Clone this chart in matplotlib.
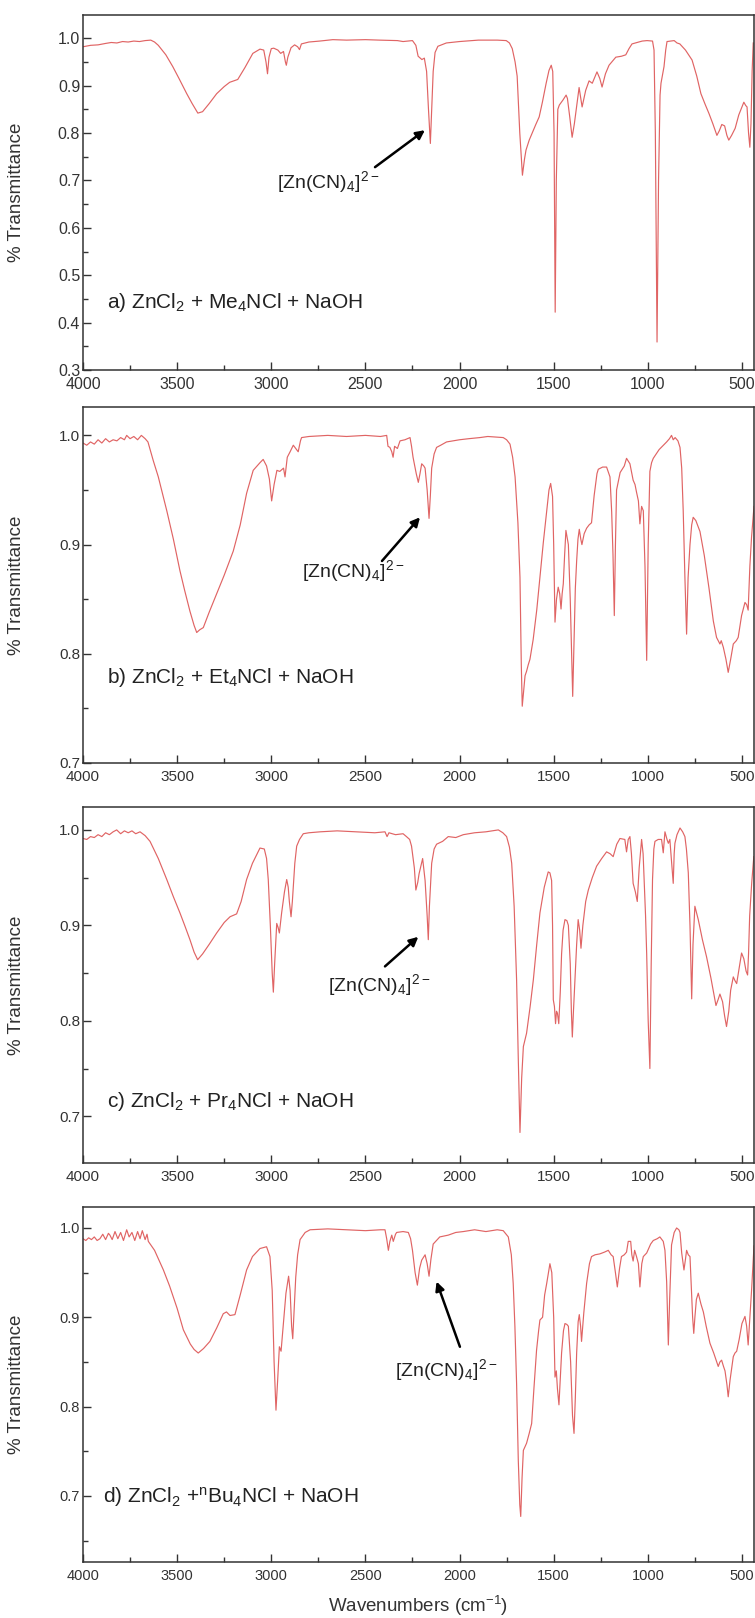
import numpy as np
import matplotlib
matplotlib.use('Agg')
import matplotlib.pyplot as plt
from matplotlib.ticker import MultipleLocator, FormatStrFormatter

plt.rcParams['font.family'] = ['Liberation Sans', 'DejaVu Sans']
plt.rcParams['mathtext.fontset'] = 'custom'
plt.rcParams['mathtext.rm'] = 'Liberation Sans'

# ---- spectra: (wavenumber cm-1, transmittance) ----
spec_a = [
    (4000, 0.982), (3960, 0.985), (3920, 0.986), (3880, 0.989), (3850, 0.991), (3820, 0.990),
    (3790, 0.993), (3760, 0.992), (3730, 0.994), (3700, 0.993), (3670, 0.995), (3640, 0.996),
    (3620, 0.992), (3600, 0.985), (3560, 0.965), (3523, 0.940), (3490, 0.915), (3449, 0.883),
    (3420, 0.862), (3390, 0.842), (3365, 0.845), (3330, 0.862), (3290, 0.883), (3250, 0.898),
    (3221, 0.907), (3178, 0.913), (3140, 0.938), (3098, 0.968), (3060, 0.977), (3040, 0.975),
    (3028, 0.950), (3020, 0.925), (3012, 0.960), (3000, 0.978), (2987, 0.979), (2965, 0.975),
    (2950, 0.968), (2935, 0.972), (2925, 0.950), (2920, 0.943), (2912, 0.960), (2895, 0.980),
    (2876, 0.986), (2860, 0.982), (2850, 0.976), (2840, 0.988), (2800, 0.992), (2743, 0.994),
    (2673, 0.997), (2600, 0.996), (2500, 0.997), (2425, 0.996), (2330, 0.995), (2300, 0.993),
    (2250, 0.995), (2232, 0.985), (2220, 0.962), (2200, 0.955), (2187, 0.958), (2175, 0.930),
    (2165, 0.850), (2155, 0.778), (2148, 0.850), (2140, 0.930), (2130, 0.970), (2115, 0.983),
    (2070, 0.990), (2000, 0.993), (1900, 0.996), (1800, 0.996), (1752, 0.995), (1735, 0.990),
    (1720, 0.978), (1705, 0.950), (1694, 0.920), (1680, 0.800), (1666, 0.711), (1655, 0.745),
    (1647, 0.764), (1630, 0.785), (1614, 0.800), (1595, 0.818), (1577, 0.834), (1560, 0.865),
    (1540, 0.905), (1525, 0.932), (1513, 0.943), (1505, 0.930), (1498, 0.800), (1492, 0.422),
    (1486, 0.700), (1478, 0.850), (1470, 0.859), (1450, 0.870), (1434, 0.880), (1427, 0.873),
    (1415, 0.835), (1402, 0.791), (1390, 0.820), (1380, 0.850), (1365, 0.896), (1349, 0.855),
    (1330, 0.890), (1312, 0.910), (1295, 0.905), (1270, 0.929), (1255, 0.915), (1243, 0.897),
    (1225, 0.925), (1206, 0.943), (1170, 0.960), (1140, 0.962), (1117, 0.965), (1100, 0.978),
    (1084, 0.988), (1030, 0.994), (1004, 0.995), (975, 0.994), (967, 0.975), (960, 0.800),
    (951, 0.359), (943, 0.700), (935, 0.880), (930, 0.905), (914, 0.940), (905, 0.975),
    (898, 0.993), (860, 0.995), (845, 0.990), (830, 0.988), (800, 0.975), (765, 0.954),
    (740, 0.920), (718, 0.883), (695, 0.860), (675, 0.841), (655, 0.820), (633, 0.795),
    (620, 0.805), (607, 0.818), (592, 0.815), (580, 0.795), (570, 0.785), (555, 0.795),
    (536, 0.810), (517, 0.838), (505, 0.850), (490, 0.865), (480, 0.858), (473, 0.855),
    (465, 0.800), (458, 0.770), (452, 0.820), (446, 0.930), (440, 0.990),
]

spec_b = [
    (4000, 0.993), (3980, 0.991), (3960, 0.994), (3940, 0.992), (3920, 0.996), (3900, 0.993),
    (3880, 0.997), (3860, 0.994), (3840, 0.996), (3820, 0.995), (3800, 0.998), (3780, 0.996),
    (3768, 1.000), (3750, 0.997), (3730, 0.999), (3710, 0.996), (3690, 1.000), (3670, 0.997),
    (3655, 0.994), (3640, 0.985), (3627, 0.977), (3600, 0.962), (3555, 0.931), (3520, 0.905),
    (3485, 0.876), (3460, 0.858), (3432, 0.839), (3410, 0.826), (3396, 0.8195), (3380, 0.822),
    (3361, 0.824), (3330, 0.838), (3290, 0.855), (3250, 0.872), (3202, 0.894), (3165, 0.918),
    (3131, 0.947), (3096, 0.968), (3060, 0.975), (3043, 0.978), (3025, 0.972), (3010, 0.960),
    (2998, 0.940), (2985, 0.955), (2970, 0.968), (2955, 0.967), (2935, 0.970), (2927, 0.962),
    (2915, 0.980), (2900, 0.985), (2883, 0.991), (2870, 0.988), (2857, 0.985), (2845, 0.995),
    (2839, 0.998), (2800, 0.999), (2700, 1.000), (2600, 0.999), (2500, 1.000), (2420, 0.999),
    (2387, 1.000), (2380, 0.990), (2370, 0.989), (2360, 0.985), (2353, 0.980), (2345, 0.990),
    (2330, 0.988), (2316, 0.995), (2290, 0.996), (2263, 0.998), (2255, 0.990), (2247, 0.980),
    (2230, 0.965), (2219, 0.957), (2210, 0.965), (2201, 0.974), (2190, 0.972), (2183, 0.970),
    (2172, 0.950), (2162, 0.924), (2155, 0.945), (2148, 0.970), (2135, 0.983), (2122, 0.989),
    (2100, 0.991), (2069, 0.994), (2000, 0.996), (1950, 0.997), (1892, 0.998), (1850, 0.999),
    (1768, 0.998), (1750, 0.996), (1732, 0.992), (1718, 0.980), (1705, 0.962), (1690, 0.920),
    (1679, 0.870), (1672, 0.790), (1667, 0.752), (1660, 0.765), (1652, 0.780), (1644, 0.784),
    (1635, 0.790), (1626, 0.795), (1609, 0.813), (1590, 0.840), (1573, 0.870), (1555, 0.902),
    (1537, 0.931), (1525, 0.950), (1516, 0.956), (1506, 0.944), (1500, 0.900), (1493, 0.829),
    (1485, 0.850), (1476, 0.861), (1468, 0.855), (1461, 0.841), (1455, 0.855), (1449, 0.864),
    (1442, 0.890), (1435, 0.913), (1422, 0.900), (1412, 0.850), (1405, 0.800), (1399, 0.761),
    (1392, 0.810), (1385, 0.860), (1378, 0.885), (1371, 0.905), (1364, 0.914), (1356, 0.905),
    (1350, 0.900), (1338, 0.910), (1325, 0.915), (1312, 0.918), (1299, 0.920), (1285, 0.945),
    (1270, 0.965), (1263, 0.969), (1240, 0.971), (1219, 0.971), (1201, 0.962), (1192, 0.930),
    (1185, 0.891), (1178, 0.835), (1172, 0.900), (1166, 0.950), (1147, 0.966), (1125, 0.972),
    (1113, 0.979), (1095, 0.974), (1085, 0.965), (1078, 0.959), (1068, 0.955), (1060, 0.948),
    (1050, 0.940), (1042, 0.919), (1033, 0.935), (1024, 0.931), (1015, 0.880), (1006, 0.794),
    (998, 0.900), (989, 0.967), (980, 0.975), (971, 0.979), (940, 0.987), (900, 0.994),
    (885, 0.997), (874, 1.000), (865, 0.996), (855, 0.998), (840, 0.995), (829, 0.989),
    (820, 0.970), (812, 0.931), (803, 0.870), (794, 0.818), (786, 0.870), (776, 0.900),
    (767, 0.918), (759, 0.925), (745, 0.922), (723, 0.912), (700, 0.890), (675, 0.860),
    (652, 0.830), (635, 0.815), (617, 0.809), (610, 0.812), (599, 0.806), (585, 0.795),
    (573, 0.783), (560, 0.795), (546, 0.809), (530, 0.812), (520, 0.815), (502, 0.835),
    (484, 0.847), (475, 0.845), (467, 0.840), (458, 0.880), (449, 0.907), (436, 0.935),
]

spec_c = [
    (4000, 0.991), (3980, 0.990), (3960, 0.993), (3940, 0.992), (3920, 0.995), (3900, 0.993),
    (3880, 0.997), (3860, 0.995), (3840, 0.998), (3821, 1.000), (3800, 0.996), (3780, 0.999),
    (3760, 0.997), (3740, 0.999), (3720, 0.996), (3697, 0.998), (3670, 0.994), (3644, 0.988),
    (3600, 0.970), (3555, 0.948), (3520, 0.930), (3485, 0.913), (3460, 0.900), (3432, 0.885),
    (3410, 0.872), (3391, 0.864), (3365, 0.870), (3330, 0.880), (3290, 0.892), (3250, 0.903),
    (3219, 0.909), (3184, 0.912), (3160, 0.925), (3131, 0.948), (3100, 0.965), (3060, 0.981),
    (3037, 0.980), (3025, 0.970), (3016, 0.948), (3005, 0.900), (2995, 0.850), (2989, 0.830),
    (2982, 0.860), (2971, 0.902), (2964, 0.898), (2957, 0.892), (2945, 0.913), (2930, 0.935),
    (2918, 0.948), (2910, 0.940), (2904, 0.925), (2895, 0.909), (2888, 0.925), (2883, 0.940),
    (2875, 0.965), (2865, 0.983), (2850, 0.990), (2830, 0.996), (2800, 0.997), (2740, 0.998),
    (2650, 0.999), (2550, 0.998), (2450, 0.997), (2396, 0.998), (2385, 0.993), (2375, 0.997),
    (2340, 0.995), (2300, 0.996), (2282, 0.993), (2265, 0.990), (2255, 0.983), (2240, 0.960),
    (2232, 0.937), (2222, 0.945), (2215, 0.954), (2196, 0.970), (2183, 0.947), (2172, 0.910),
    (2166, 0.885), (2160, 0.920), (2148, 0.965), (2135, 0.980), (2122, 0.985), (2090, 0.988),
    (2060, 0.993), (2020, 0.992), (1980, 0.995), (1920, 0.997), (1860, 0.998), (1794, 1.000),
    (1770, 0.997), (1750, 0.993), (1735, 0.982), (1723, 0.965), (1710, 0.920), (1697, 0.843),
    (1688, 0.760), (1679, 0.683), (1670, 0.740), (1661, 0.773), (1644, 0.787), (1625, 0.815),
    (1608, 0.843), (1590, 0.880), (1573, 0.913), (1550, 0.940), (1529, 0.956), (1520, 0.955),
    (1511, 0.947), (1506, 0.900), (1502, 0.822), (1496, 0.815), (1490, 0.797), (1485, 0.810),
    (1480, 0.808), (1473, 0.797), (1465, 0.830), (1458, 0.870), (1450, 0.895), (1440, 0.906),
    (1430, 0.905), (1422, 0.900), (1412, 0.860), (1406, 0.810), (1401, 0.783), (1395, 0.810),
    (1387, 0.843), (1378, 0.880), (1370, 0.906), (1362, 0.895), (1355, 0.876), (1345, 0.900),
    (1330, 0.925), (1316, 0.937), (1295, 0.950), (1272, 0.962), (1245, 0.970), (1219, 0.977),
    (1200, 0.975), (1184, 0.972), (1165, 0.985), (1148, 0.991), (1122, 0.990), (1113, 0.977),
    (1104, 0.990), (1095, 0.993), (1087, 0.975), (1078, 0.944), (1066, 0.935), (1056, 0.925),
    (1046, 0.960), (1033, 0.990), (1025, 0.975), (1021, 0.955), (1012, 0.910), (1006, 0.870),
    (998, 0.800), (989, 0.750), (982, 0.860), (975, 0.948), (968, 0.980), (962, 0.988),
    (945, 0.990), (927, 0.990), (918, 0.976), (909, 0.998), (898, 0.990), (891, 0.986),
    (883, 0.990), (875, 0.970), (865, 0.944), (860, 0.975), (856, 0.986), (845, 0.995),
    (829, 1.002), (815, 0.998), (803, 0.993), (795, 0.980), (785, 0.955), (776, 0.900),
    (767, 0.823), (760, 0.880), (750, 0.920), (740, 0.912), (732, 0.906), (710, 0.885),
    (688, 0.867), (665, 0.845), (638, 0.816), (627, 0.822), (617, 0.828), (603, 0.820),
    (592, 0.805), (582, 0.794), (570, 0.810), (560, 0.832), (546, 0.846), (537, 0.842),
    (528, 0.839), (515, 0.855), (502, 0.871), (490, 0.865), (478, 0.852), (470, 0.848),
    (465, 0.870), (459, 0.910), (448, 0.945), (437, 0.972),
]

spec_d = [
    (4000, 0.988), (3985, 0.986), (3970, 0.989), (3955, 0.987), (3940, 0.990), (3925, 0.986),
    (3910, 0.988), (3895, 0.993), (3880, 0.987), (3865, 0.994), (3857, 0.992), (3845, 0.987),
    (3830, 0.996), (3815, 0.988), (3800, 0.995), (3785, 0.986), (3768, 0.998), (3755, 0.990),
    (3740, 0.995), (3725, 0.986), (3710, 0.996), (3697, 0.988), (3685, 0.997), (3670, 0.987),
    (3660, 0.993), (3653, 0.985), (3620, 0.975), (3573, 0.953), (3540, 0.935), (3500, 0.910),
    (3467, 0.886), (3430, 0.870), (3410, 0.864), (3388, 0.860), (3360, 0.865), (3326, 0.873),
    (3290, 0.888), (3255, 0.904), (3238, 0.906), (3219, 0.902), (3193, 0.903), (3165, 0.925),
    (3131, 0.953), (3100, 0.968), (3060, 0.977), (3025, 0.979), (3007, 0.968), (2995, 0.930),
    (2985, 0.850), (2975, 0.796), (2966, 0.830), (2957, 0.867), (2948, 0.862), (2935, 0.895),
    (2922, 0.927), (2908, 0.946), (2900, 0.930), (2892, 0.890), (2886, 0.876), (2878, 0.910),
    (2870, 0.945), (2860, 0.970), (2847, 0.987), (2820, 0.995), (2794, 0.998), (2700, 0.999),
    (2600, 0.998), (2500, 0.997), (2420, 0.998), (2396, 0.998), (2387, 0.988), (2378, 0.975),
    (2370, 0.985), (2360, 0.992), (2352, 0.985), (2340, 0.993), (2334, 0.995), (2300, 0.996),
    (2272, 0.995), (2260, 0.988), (2250, 0.975), (2236, 0.950), (2224, 0.936), (2212, 0.955),
    (2201, 0.964), (2183, 0.970), (2172, 0.960), (2162, 0.946), (2152, 0.965), (2140, 0.982),
    (2105, 0.990), (2060, 0.992), (2020, 0.995), (1980, 0.996), (1920, 0.998), (1860, 0.996),
    (1800, 0.998), (1768, 0.997), (1741, 0.990), (1725, 0.970), (1715, 0.938), (1706, 0.890),
    (1697, 0.826), (1688, 0.740), (1680, 0.690), (1675, 0.677), (1668, 0.720), (1661, 0.751),
    (1644, 0.759), (1630, 0.770), (1617, 0.781), (1605, 0.820), (1591, 0.863), (1580, 0.885),
    (1573, 0.897), (1559, 0.900), (1548, 0.925), (1537, 0.938), (1520, 0.960), (1510, 0.950),
    (1500, 0.900), (1493, 0.833), (1486, 0.840), (1480, 0.820), (1472, 0.802), (1465, 0.830),
    (1458, 0.860), (1448, 0.885), (1440, 0.893), (1430, 0.892), (1422, 0.890), (1410, 0.850),
    (1400, 0.790), (1392, 0.770), (1385, 0.810), (1378, 0.860), (1370, 0.895), (1364, 0.903),
    (1357, 0.890), (1352, 0.873), (1340, 0.905), (1325, 0.938), (1310, 0.960), (1299, 0.968),
    (1280, 0.970), (1255, 0.971), (1230, 0.973), (1210, 0.975), (1195, 0.970), (1184, 0.968),
    (1172, 0.950), (1162, 0.934), (1150, 0.955), (1140, 0.968), (1125, 0.970), (1113, 0.973),
    (1104, 0.985), (1091, 0.985), (1085, 0.970), (1078, 0.963), (1070, 0.975), (1060, 0.968),
    (1050, 0.960), (1042, 0.934), (1032, 0.960), (1024, 0.968), (1006, 0.972), (985, 0.982),
    (971, 0.986), (950, 0.988), (936, 0.990), (918, 0.985), (909, 0.975), (900, 0.940),
    (891, 0.869), (884, 0.920), (874, 0.981), (860, 0.995), (847, 1.000), (835, 0.998),
    (829, 0.995), (820, 0.972), (808, 0.953), (800, 0.965), (794, 0.975), (785, 0.970),
    (776, 0.968), (768, 0.930), (762, 0.900), (756, 0.882), (750, 0.900), (742, 0.920),
    (732, 0.927), (718, 0.915), (705, 0.906), (690, 0.890), (670, 0.871), (650, 0.860),
    (626, 0.845), (617, 0.850), (608, 0.852), (598, 0.845), (590, 0.840), (580, 0.825),
    (573, 0.811), (563, 0.830), (546, 0.856), (537, 0.860), (528, 0.862), (515, 0.875),
    (500, 0.893), (484, 0.901), (475, 0.890), (467, 0.869), (458, 0.900), (449, 0.930),
    (436, 0.980),
]

labels = [
    r'a) ZnCl$\mathregular{_2}$ + Me$\mathregular{_4}$NCl + NaOH',
    r'b) ZnCl$\mathregular{_2}$ + Et$\mathregular{_4}$NCl + NaOH',
    r'c) ZnCl$\mathregular{_2}$ + Pr$\mathregular{_4}$NCl + NaOH',
    r'd) ZnCl$\mathregular{_2}$ +$\mathregular{^n}$Bu$\mathregular{_4}$NCl + NaOH',
]
anion = r'[Zn(CN)$\mathregular{_4}$]$\mathregular{^{2-}}$'

# layout (figure pixels) and axis ranges
panel_px = [(15, 370), (407, 763), (807, 1163), (1207, 1562)]
ylims = [(0.3, 1.049), (0.7, 1.026), (0.651, 1.024), (0.626, 1.0235)]
tick_size = [11.5, 11, 11, 10.5]
label_pos = [(3872, 0.443), (3872, 0.778), (3872, 0.715), (3894, 0.699)]
# (text left, arrow tail, arrow head)
notes = [
    ((2970, 0.696), (2449, 0.728), (2184, 0.806)),
    ((2837, 0.876), (2412, 0.885), (2210, 0.925)),
    ((2699, 0.837), (2396, 0.857), (2219, 0.888)),
    ((2343, 0.841), (1998, 0.867), (2122, 0.940)),
]
spectra = [spec_a, spec_b, spec_c, spec_d]

W, H = 755, 1618
fig = plt.figure(figsize=(W / 100, H / 100), dpi=100)
line_col = '#e06464'
ink = '#333333'

for i, spec in enumerate(spectra):
    top, bot = panel_px[i]
    ax = fig.add_axes([83 / W, 1 - bot / H, (754 - 83) / W, (bot - top) / H])
    arr = np.array(spec)
    ax.plot(arr[:, 0], arr[:, 1], color=line_col, lw=0.85)
    ax.set_xlim(4000, 436)
    ax.set_ylim(*ylims[i])
    ax.xaxis.set_major_locator(MultipleLocator(500))
    ax.xaxis.set_minor_locator(MultipleLocator(250))
    ax.yaxis.set_major_locator(MultipleLocator(0.1))
    ax.yaxis.set_minor_locator(MultipleLocator(0.05))
    ax.yaxis.set_major_formatter(FormatStrFormatter('%.1f'))
    ax.tick_params(which='both', direction='in', top=False, right=False, colors=ink,
                   labelsize=tick_size[i], width=1.0)
    ax.tick_params(which='major', length=6)
    ax.tick_params(which='minor', length=3.5)
    ax.tick_params(axis='x', pad=5)
    ax.tick_params(axis='y', pad=2)
    for s in ax.spines.values():
        s.set_color(ink)
        s.set_linewidth(1.1)
    ax.set_ylabel('% Transmittance', fontsize=13.5, color=ink)
    ax.yaxis.set_label_coords(-58 / (754 - 83), 0.5)

    lx, ly = label_pos[i]
    ax.text(lx, ly, labels[i], fontsize=15, color='#222222', ha='left', va='center')

    (tx, ty), tail, head = notes[i]
    ax.text(tx, ty, anion, fontsize=14, color='#222222', ha='left', va='center')
    ax.annotate('', xy=head, xytext=tail,
                arrowprops=dict(arrowstyle='-|>', color='black', lw=1.8,
                                mutation_scale=13, shrinkA=0, shrinkB=0))

    if i == 3:
        ax.set_xlabel(r'Wavenumbers (cm$\mathregular{^{-1}}$)', fontsize=13.5, color=ink,
                      labelpad=8)

fig.savefig('out.png', dpi=100)
